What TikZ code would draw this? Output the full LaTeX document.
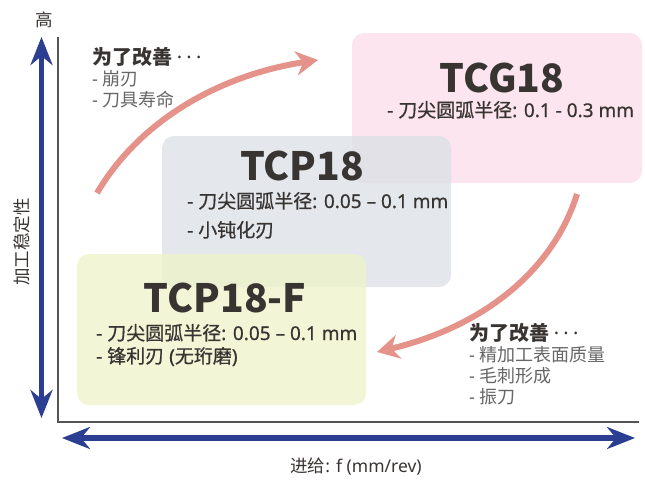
\documentclass[tikz,border=0pt]{standalone}
\usepackage{fontspec}
\setmainfont{Noto Sans}
\newfontfamily\cjk{Noto Sans CJK SC}
\newfontfamily\cjkmed{Noto Sans CJK SC}[FakeBold=0.7]
\newfontfamily\latmed{Noto Sans}[FakeBold=0.7]
\newcommand\zh[1]{{\cjk #1}}
\newcommand\zhm[1]{{\cjkmed #1}}
\newcommand\mydots{\raisebox{0.28em}{.\kern4.3pt.\kern4.3pt.}}
\usetikzlibrary{arrows.meta}
\definecolor{axisblue}{HTML}{2C3E92}
\definecolor{salmon}{HTML}{E5938A}
\definecolor{darktxt}{HTML}{383432}
\definecolor{graytxt}{HTML}{666666}
\definecolor{axisgray}{HTML}{555555}
\definecolor{pinkfill}{HTML}{FBDCE8}
\definecolor{grayfill}{HTML}{DBE0E6}
\definecolor{yellowfill}{HTML}{EEF3C8}
\tikzset{
  box/.style={rectangle, rounded corners=12pt, draw=none, fill opacity=0.75, inner sep=0pt},
  bigtitle/.style={inner sep=0pt, anchor=base, font=\fontsize{39}{44}\selectfont\cjk\bfseries, text=darktxt},
  bullet/.style={inner sep=0pt, anchor=base west, font=\fontsize{19}{22}\selectfont\latmed, text=darktxt},
  annotitle/.style={inner sep=0pt, anchor=base west, font=\fontsize{20}{24}\selectfont\cjk\bfseries, text=darktxt},
  annoitem/.style={inner sep=0pt, anchor=base west, font=\fontsize{18}{21}\selectfont, text=graytxt},
  axislabel/.style={inner sep=0pt, font=\fontsize{17.5}{20}\selectfont, text=darktxt},
  bluearrow/.style={draw=axisblue, line width=5.5pt, {Stealth[length=28pt,width=22pt,inset=9pt]}-{Stealth[length=28pt,width=22pt,inset=9pt]}},
  improve/.style={draw=salmon, line width=6pt, -{Stealth[length=22pt,width=24pt,inset=7pt]}},
  thinaxis/.style={draw=axisgray, line width=1.3pt}
}
\begin{document}
\begin{tikzpicture}[x=1pt,y=-1pt]
\useasboundingbox (0,0) rectangle (645,480);
% thin axes
\coordinate (ytop) at (58,37);
\coordinate (corner) at (58,422);
\coordinate (xend) at (639,422);
\draw[thinaxis] (ytop) -- (corner) -- (xend);
% boxes
\node[box, fill=pinkfill, minimum width=290pt, minimum height=150pt] (tcgbox) at (497,108) {};
\node[box, fill=grayfill, minimum width=289pt, minimum height=151pt] (tcpbox) at (306.5,211.5) {};
\node[box, fill=yellowfill, minimum width=289pt, minimum height=151pt] (tcpfbox) at (221.5,329.5) {};
% blue axis arrows
\coordinate (vtop) at (41.5,37);
\coordinate (vbot) at (41.5,418);
\coordinate (hleft) at (62,438);
\coordinate (hright) at (635,438);
\draw[bluearrow] (vbot) -- (vtop);
\draw[bluearrow] (hleft) -- (hright);
% axis labels
\node[axislabel, anchor=base] (high) at (44,26) {\zh{高}};
\node[axislabel, rotate=90] (stab) at (22,242) {\zh{加工稳定性}};
\node[axislabel, anchor=base] (feed) at (356,472) {\zh{进给}: f (mm/rev)};
% TCG18
\node[bigtitle] (tcgtitle) at (502,92) {TCG18};
\node[bullet] (tcgb1) at (387,117) {- \zhm{刀尖圆弧半径}: 0.1 - 0.3 mm};
% TCP18
\node[bigtitle] (tcptitle) at (302,180) {TCP18};
\node[bullet] (tcpb1) at (187,208) {- \zhm{刀尖圆弧半径}: 0.05 – 0.1 mm};
\node[bullet] (tcpb2) at (187,237) {- \zhm{小钝化刃}};
% TCP18-F
\node[bigtitle] (tcpftitle) at (225,312) {TCP18-F};
\node[bullet] (tcpfb1) at (96,340) {- \zhm{刀尖圆弧半径}: 0.05 – 0.1 mm};
\node[bullet] (tcpfb2) at (96,363) {- \zhm{锋利刃} (\zhm{无珩磨})};
% left annotation
\node[annotitle] (lat) at (92,64) {为了改善 {\rmfamily\mydots}};
\node[annoitem] (la1) at (92,85) {- \zh{崩刃}};
\node[annoitem] (la2) at (92,106) {- \zh{刀具寿命}};
% right annotation
\node[annotitle] (rat) at (469,340) {为了改善 {\rmfamily\mydots}};
\node[annoitem] (ra1) at (469,361) {- \zh{精加工表面质量}};
\node[annoitem] (ra2) at (469,382) {- \zh{毛刺形成}};
\node[annoitem] (ra3) at (469,403) {- \zh{振刀}};
% improvement arrows
\coordinate (upstart) at (97,193);
\coordinate (upend) at (318,60);
\draw[improve] (upstart) .. controls (140,120) and (220,75) .. (upend);
\coordinate (downstart) at (577,194);
\coordinate (downend) at (377,352);
\draw[improve] (downstart) .. controls (555,265) and (490,325) .. (downend);
\end{tikzpicture}
\end{document}
